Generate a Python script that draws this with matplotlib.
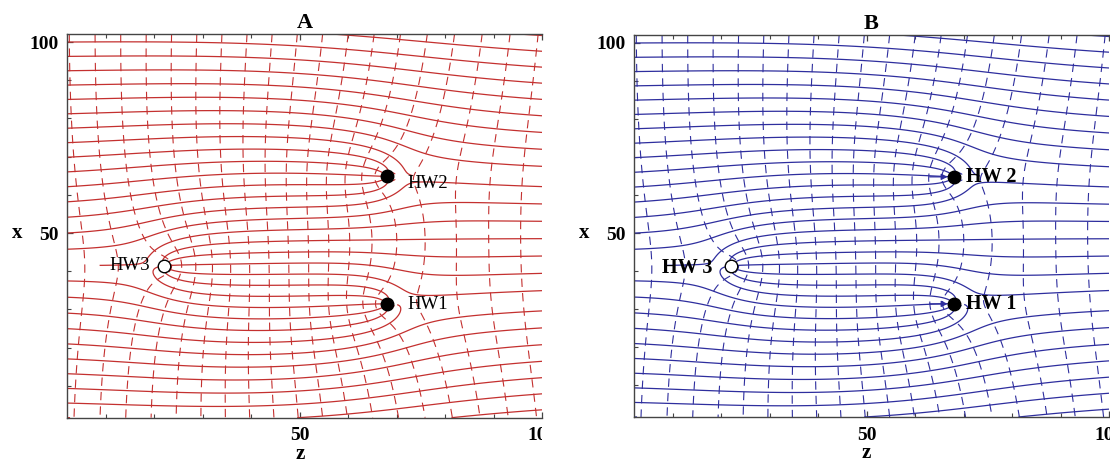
import numpy as np
import matplotlib.pyplot as plt
from matplotlib.ticker import MultipleLocator
from matplotlib.transforms import Bbox, TransformedBbox

# wells: position (z, x) and rate (negative = extraction, positive = injection)
well_labels_a = ["HW1", "HW2", "HW3"]
well_labels_b = ["HW 1", "HW 2", "HW 3"]
well_z = [68.0, 68.0, 22.0]
well_x = [31.4, 64.8, 41.4]
well_q = [-23.0, -23.0, 24.0]

# background flow (left to right) and flow-net spacing
u_flow = 1.0
psi_step = 3.95
phi_step = 5.6

panel_titles = ["A", "B"]
panel_colors = ["#c4302f", "#2e2e9e"]

z_lim = (2.0, 100.0)
x_lim = (1.65, 102.1)

plt.rcParams['font.family'] = ['Liberation Serif', 'DejaVu Serif']

W, H = 1110, 463
fig = plt.figure(figsize=(W / 100, H / 100), dpi=100)


def px_axes(left, top, right, bottom):
    return fig.add_axes([left / W, 1 - bottom / H, (right - left) / W, (bottom - top) / H])


def flow_net():
    zg = np.linspace(z_lim[0], z_lim[1], 981)
    xg = np.linspace(x_lim[0], x_lim[1], 1006)
    Z, X = np.meshgrid(zg, xg)
    psi = u_flow * X
    phi = u_flow * Z
    cut = np.zeros(Z.shape, bool)
    for zw, xw, q in zip(well_z, well_x, well_q):
        dz, dx = Z - zw, X - xw
        th = np.arctan2(dx, dz)
        if q < 0:
            # sink: put the branch cut downstream
            th = np.mod(th, 2 * np.pi)
            cut |= (np.abs(dx) < 0.12) & (dz > 0)
        else:
            cut |= (np.abs(dx) < 0.12) & (dz < 0)
        psi += q / (2 * np.pi) * th
        phi += q / (2 * np.pi) * np.log(np.hypot(dz, dx))
    psi = np.ma.array(psi, mask=cut)
    return Z, X, psi, phi


def levels_through(field, Z, X, z0, x0, step):
    i = np.abs(X[:, 0] - x0).argmin()
    j = np.abs(Z[0, :] - z0).argmin()
    ref = field[i, j]
    lo = np.floor((field.min() - ref) / step)
    hi = np.ceil((field.max() - ref) / step)
    return ref + step * np.arange(lo, hi + 1)


Z, X, psi, phi = flow_net()
psi_levels = levels_through(psi, Z, X, 2.5, 100.0, psi_step)
phi_levels = levels_through(phi, Z, X, 7.8, 100.0, phi_step)

ax_a = px_axes(67, 34, 542, 417.7)
ax_b = px_axes(634, 35, 1109, 417)

for k, ax in enumerate([ax_a, ax_b]):
    col = panel_colors[k]
    ax.contour(Z, X, psi, levels=psi_levels, colors=col, linewidths=0.9,
               linestyles='solid')
    ax.contour(Z, X, phi, levels=phi_levels, colors=col, linewidths=0.8,
               linestyles=[(0, (7.5, 5.5))])

    # wells
    ax.plot(well_z[:2], well_x[:2], 'o', color='black', ms=9, zorder=5)
    ax.plot(well_z[2], well_x[2], 'o', mfc='white', mec='black', mew=1.0,
            ms=9, zorder=5)

    if k == 0:
        ax.text(well_z[0] + 4.2, well_x[0], well_labels_a[0], fontsize=13.5,
                va='center', ha='left')
        ax.text(well_z[1] + 4.2, well_x[1] - 1.8, well_labels_a[1], fontsize=13.5,
                va='center', ha='left')
        ax.text(well_z[2] - 2.8, well_x[2], well_labels_a[2], fontsize=13.5,
                va='center', ha='right')
    else:
        ax.text(well_z[0] + 2.6, well_x[0], well_labels_b[0], fontsize=14.5,
                fontweight='bold', va='center', ha='left')
        ax.text(well_z[1] + 2.6, well_x[1], well_labels_b[1], fontsize=14.5,
                fontweight='bold', va='center', ha='left')
        ax.text(well_z[2] - 3.8, well_x[2] - 0.5, well_labels_b[2], fontsize=14.5,
                fontweight='bold', va='center', ha='right')
        # flow arrows into the extraction wells
        for zw, xw in zip(well_z[:2], well_x[:2]):
            ax.annotate('', xy=(zw - 1.3, xw), xytext=(zw - 5, xw),
                        arrowprops=dict(arrowstyle='-|>', color=col, lw=0.9,
                                        mutation_scale=9, shrinkA=0, shrinkB=0))

    ax.set_xlim(*z_lim)
    ax.set_ylim(*x_lim)
    ax.set_xticks([50, 100])
    ax.set_yticks([50, 100])
    ax.xaxis.set_minor_locator(MultipleLocator(10))
    ax.yaxis.set_minor_locator(MultipleLocator(10))
    ax.tick_params(which='both', direction='in', top=True, right=False,
                   color='#444444', labelsize=14)
    ax.tick_params(axis='x', pad=7)
    ax.tick_params(axis='y', pad=6)
    ax.tick_params(which='major', length=4.5, width=0.9)
    ax.tick_params(which='minor', length=3, width=0.8)
    for lab in ax.get_xticklabels() + ax.get_yticklabels():
        lab.set_fontweight('bold')

    for side in ['left', 'bottom', 'top']:
        ax.spines[side].set_color('#444444')
        ax.spines[side].set_linewidth(1.0)
    ax.spines['right'].set_visible(False)

    ax.set_xlabel('z', fontsize=15, fontweight='bold', va='center')
    ax.set_ylabel('x', fontsize=15, fontweight='bold', rotation=0,
                  ha='center', va='center')
    ax.xaxis.set_label_coords(0.49, -0.095)
    ax.yaxis.set_label_coords(-0.105, (50 - x_lim[0]) / (x_lim[1] - x_lim[0]))
    ax.set_title(panel_titles[k], fontsize=16, fontweight='bold', pad=4)

# panel A is cropped at z = 100 in the original figure
clip = TransformedBbox(Bbox([[0, 0], [542 / W, 1]]), fig.transFigure)
for lab in ax_a.get_xticklabels():
    lab.set_clip_box(clip)
    lab.set_clip_on(True)

fig.savefig('out.png', dpi=100)
